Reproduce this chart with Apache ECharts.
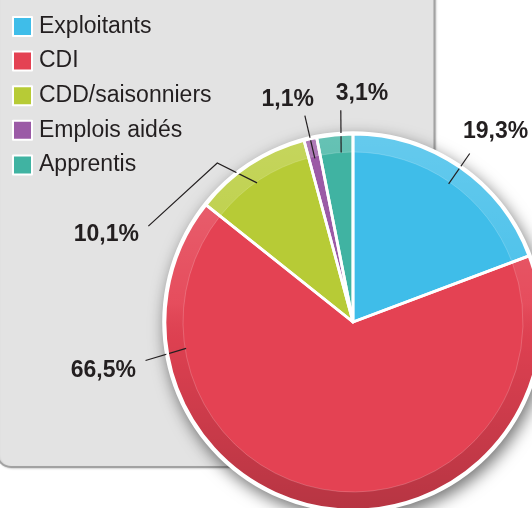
<!DOCTYPE html>
<html>
<head>
<meta charset="utf-8">
<script src="https://cdn.jsdelivr.net/npm/echarts@6/dist/echarts.min.js"></script>
<style>
  html, body { margin: 0; padding: 0; background: #ffffff; }
  #chart { width: 532px; height: 508px; }
</style>
</head>
<body>
<div id="chart"></div>
<script>
// data
const categories = ['Exploitants', 'CDI', 'CDD/saisonniers', 'Emplois aidés', 'Apprentis']
const shares = [19.3, 66.5, 10.1, 1.1, 3.1]

const palette = ['#3fbde9', '#e44253', '#b7cb36', '#9b5aa6', '#40b3a2']
const CENTER = [353, 322]
const R_OUTER = 188
const R_RING = 170
const FONT = '"Liberation Sans", Arial, Helvetica, sans-serif'

// where the callouts go (angle in degrees clockwise from 12 o'clock, null = middle of slice)
const labelSpots = [
  { line: [[null, 168], [null, 205]], x: 463, y: 132, align: 'left' },
  { line: [[261, 169], [259.5, 211]], x: 136, y: 371, align: 'right' },
  { line: [[325.4, 169], [319.5, 209], [295.1, 226]], x: 139, y: 235, align: 'right' },
  { line: [[null, 168], [null, 212]], x: 314, y: 100, align: 'right' },
  { line: [[356, 170], [356.7, 212]], x: 362, y: 94, align: 'center' }
]

const total = shares.reduce((a, b) => a + b, 0)
const midAngles = []
let acc = 0
shares.forEach(v => {
  midAngles.push((acc + v / 2) / total * 360)
  acc += v
})

const polar = (deg, r) => {
  const rad = deg * Math.PI / 180
  return [CENTER[0] + r * Math.sin(rad), CENTER[1] - r * Math.cos(rad)]
}

const pieData = categories.map((name, i) => ({ name: name, value: shares[i] }))

const chart = echarts.init(document.getElementById('chart'), null, { renderer: 'canvas' })

const option = {
  animation: false,
  color: palette,
  textStyle: { fontFamily: FONT },
  graphic: [
    {
      type: 'rect',
      z: -10,
      shape: { x: -3, y: -20, width: 437.5, height: 487, r: 14 },
      style: {
        fill: '#e3e3e3',
        stroke: '#a2a2a2',
        lineWidth: 2,
        shadowBlur: 2,
        shadowOffsetX: 1,
        shadowOffsetY: 1,
        shadowColor: 'rgba(0, 0, 0, 0.15)'
      }
    }
  ],
  legend: {
    orient: 'vertical',
    left: 12,
    top: 15,
    padding: 0,
    itemWidth: 19,
    itemHeight: 19,
    itemGap: 11.6,
    icon: 'rect',
    selectedMode: false,
    itemStyle: { borderColor: '#ffffff', borderWidth: 2 },
    textStyle: { fontSize: 23, color: '#231f20', fontFamily: FONT, padding: [0, 0, 0, 2] },
    data: categories.map((name, i) => ({ name: name, itemStyle: { color: palette[i] } }))
  },
  series: [
    {
      // white disc with the drop shadow
      type: 'pie',
      silent: true,
      z: 1,
      center: CENTER,
      radius: R_OUTER + 2.8,
      label: { show: false },
      labelLine: { show: false },
      itemStyle: {
        color: '#ffffff',
        shadowBlur: 16,
        shadowOffsetX: 3,
        shadowOffsetY: 6,
        shadowColor: 'rgba(0, 0, 0, 0.55)'
      },
      data: [{ name: 'backdrop', value: 1 }]
    },
    {
      type: 'pie',
      silent: true,
      z: 2,
      center: CENTER,
      radius: R_OUTER,
      startAngle: 90,
      clockwise: true,
      label: { show: false },
      labelLine: { show: false },
      data: pieData
    },
    {
      // lighter/darker rim
      type: 'pie',
      silent: true,
      z: 3,
      center: CENTER,
      radius: [R_RING, R_OUTER],
      startAngle: 90,
      clockwise: true,
      label: { show: false },
      labelLine: { show: false },
      itemStyle: {
        borderColor: 'rgba(255, 255, 255, 0.18)',
        borderWidth: 1,
        color: {
          type: 'linear',
          global: true,
          x: 0, y: CENTER[1] - R_OUTER, x2: 0, y2: CENTER[1] + R_OUTER,
          colorStops: [
            { offset: 0, color: 'rgba(255, 255, 255, 0.2)' },
            { offset: 0.45, color: 'rgba(255, 255, 255, 0.06)' },
            { offset: 0.55, color: 'rgba(0, 0, 0, 0.03)' },
            { offset: 1, color: 'rgba(0, 0, 0, 0.2)' }
          ]
        }
      },
      data: pieData
    },
    {
      // white separators + callouts
      type: 'pie',
      silent: true,
      z: 5,
      center: CENTER,
      radius: R_OUTER,
      startAngle: 90,
      clockwise: true,
      avoidLabelOverlap: false,
      itemStyle: { color: 'rgba(0, 0, 0, 0)', borderColor: '#ffffff', borderWidth: 2.8 },
      label: {
        show: true,
        position: 'outside',
        fontSize: 23,
        fontWeight: 'bold',
        color: '#231f20',
        fontFamily: FONT,
        formatter: p => p.value.toFixed(1).replace('.', ',') + '%'
      },
      labelLine: {
        show: true,
        smooth: false,
        lineStyle: { color: '#231f20', width: 1.2 }
      },
      labelLayout: params => {
        const spot = labelSpots[params.dataIndex]
        const pts = spot.line.map(([a, r]) => polar(a === null ? midAngles[params.dataIndex] : a, r))
        return {
          x: spot.x,
          y: spot.y,
          align: spot.align,
          verticalAlign: 'middle',
          labelLinePoints: pts
        }
      },
      data: pieData
    }
  ]
}

chart.setOption(option)
</script>
</body>
</html>
